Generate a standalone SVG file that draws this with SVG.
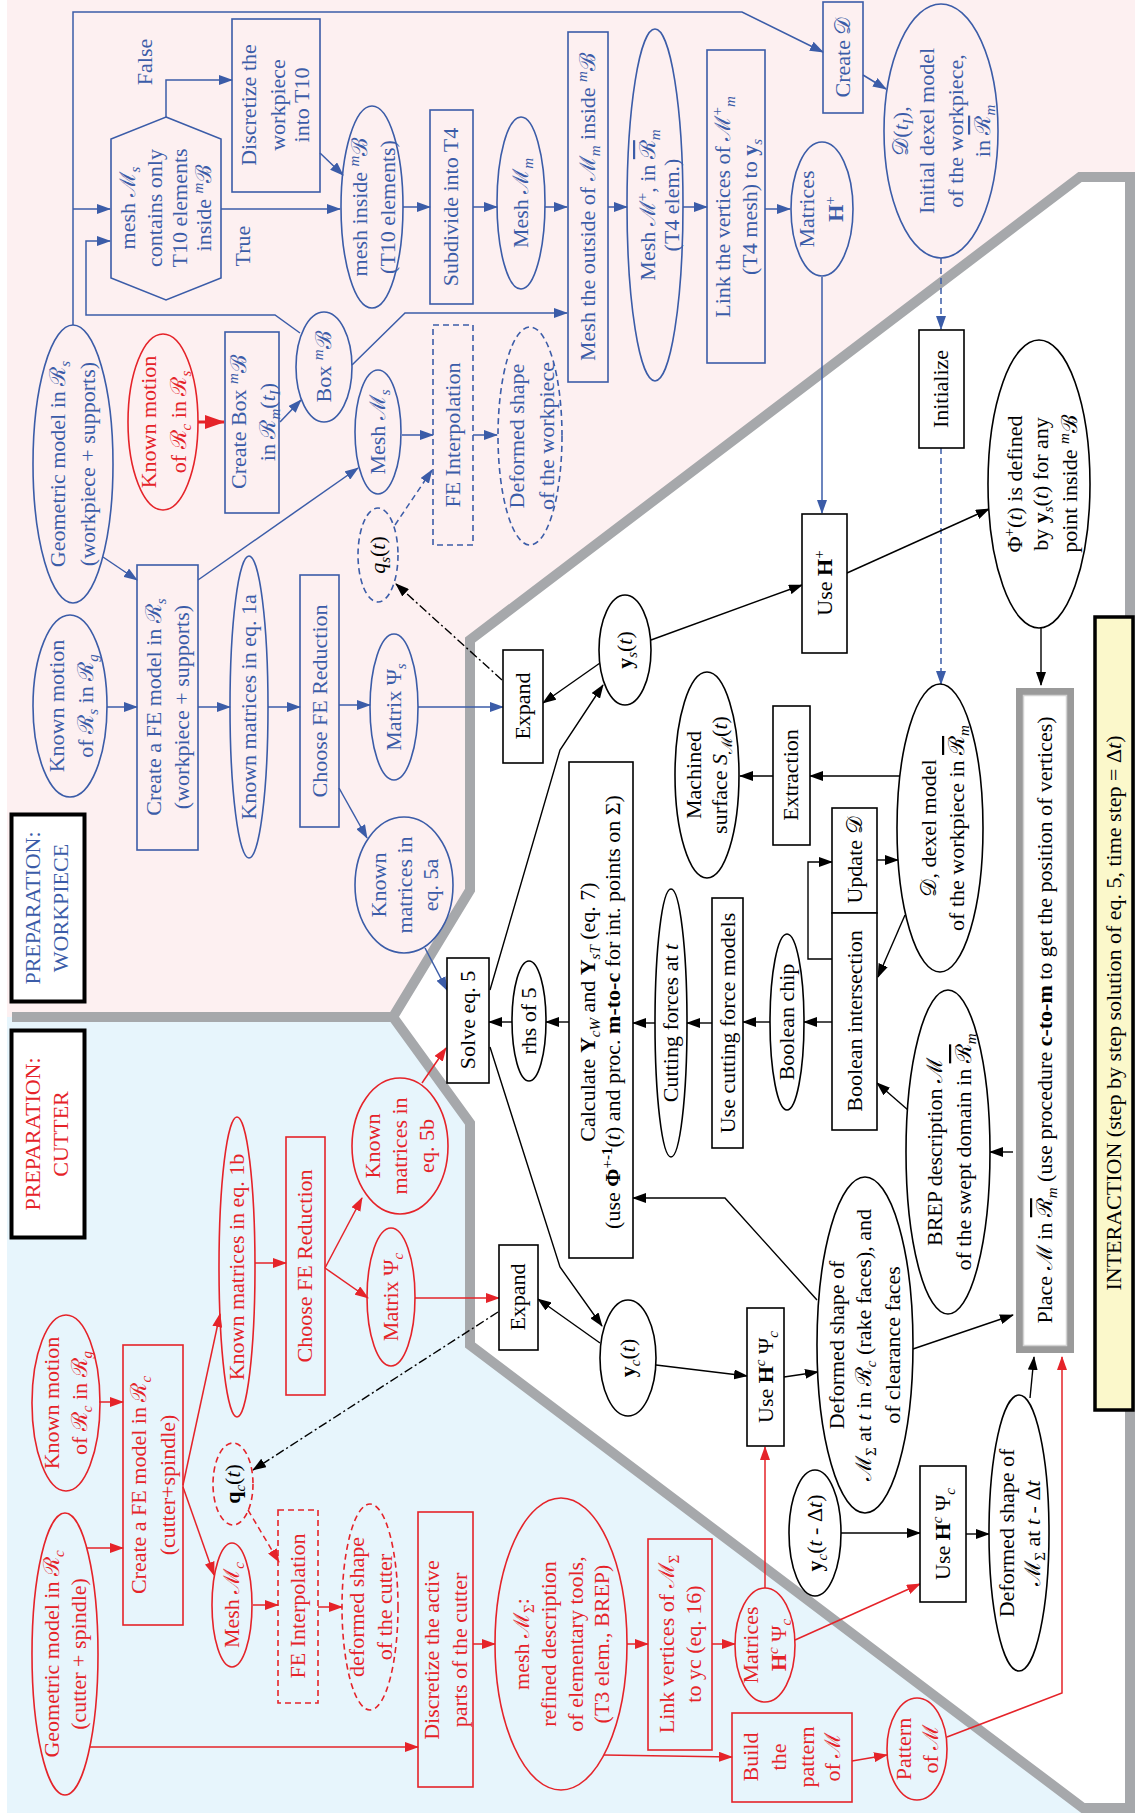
<svg xmlns="http://www.w3.org/2000/svg" width="1135" height="1813" viewBox="0 0 1135 1813">
<defs>
<style>
.t{font-family:"Liberation Serif","DejaVu Serif",serif;font-size:22px;text-anchor:middle}
.b{fill:#3b5ca8}.r{fill:#e52329}.k{fill:#000}
.i{font-style:italic}.bd{font-weight:bold}
.sb{font-size:15px;baseline-shift:-5px}
.sp{font-size:15px;baseline-shift:8px}
.ol{text-decoration:overline}
.nb{fill:none;stroke:#3b5ca8;stroke-width:1.6}
.nr{fill:none;stroke:#e52329;stroke-width:1.6}
.nk{fill:#fff;stroke:#000;stroke-width:1.6}
.dash{stroke-dasharray:6 4}
.dd{stroke-dasharray:9 3 2 3}
.cb{fill:none;stroke:#3b5ca8;stroke-width:1.5;marker-end:url(#ab)}
.cr{fill:none;stroke:#e52329;stroke-width:1.5;marker-end:url(#ar)}
.ck{fill:none;stroke:#000;stroke-width:1.4;marker-end:url(#ak)}
</style>
<marker id="ab" markerUnits="userSpaceOnUse" markerWidth="14" markerHeight="10" refX="13" refY="5" orient="auto"><path d="M0,0L14,5L0,10z" fill="#3b5ca8"/></marker>
<marker id="ar" markerUnits="userSpaceOnUse" markerWidth="14" markerHeight="10" refX="13" refY="5" orient="auto"><path d="M0,0L14,5L0,10z" fill="#e52329"/></marker>
<marker id="ak" markerUnits="userSpaceOnUse" markerWidth="14" markerHeight="10" refX="13" refY="5" orient="auto"><path d="M0,0L14,5L0,10z" fill="#000"/></marker>
<marker id="ar2" markerUnits="userSpaceOnUse" markerWidth="20" markerHeight="14" refX="19" refY="7" orient="auto"><path d="M0,0L20,7L0,14z" fill="#e52329"/></marker>
</defs>

<g id="background">
<rect x="0" y="0" width="1135" height="1813" fill="#fff"/>
<rect x="7" y="0" width="1128" height="1017" fill="#fdf0f1"/>
<rect x="7" y="1017" width="1128" height="1794" fill="#e7f5fc"/>
<path d="M1080,177 L1130,177 L1130,1808 L1083,1808 L470,1345 L470,1123 L393,1017 L470,890 L470,640 Z" fill="#fff" stroke="#a6a8ab" stroke-width="10"/>
<line x1="12" y1="1017" x2="393" y2="1017" stroke="#a6a8ab" stroke-width="10"/>
</g>

<g id="connectors">
<path class="cb" d="M73,325 V12 H742 L823,52"/>
<path class="cb" d="M73,209 H110"/>
<path class="cb" d="M166,117 V80 H232"/>
<path class="cb" d="M221,209 H340"/>
<path class="cb" d="M320,153 L343,175"/>
<path class="cb" d="M300,333 L275,315 H86 V241 H110"/>
<path class="cb" d="M352,365 L405,313 H567"/>
<path class="cb" d="M280,422 L301,400"/>
<path d="M198,422 H224" fill="none" stroke="#e52329" stroke-width="3" marker-end="url(#ar2)"/>
<path class="cb" d="M403,207 H430"/>
<path class="cb" d="M473,207 H497"/>
<path class="cb" d="M545,207 H567"/>
<path class="cb" d="M608,207 H627"/>
<path class="cb" d="M683,207 H707"/>
<path class="cb" d="M765,209 H790"/>
<path class="cb" d="M822,277 V513"/>
<path class="cb" d="M863,75 L886,89"/>
<path class="cb dash" d="M941,258 V329"/>
<path class="cb dash" d="M941,448 V684"/>
<path class="cb" d="M107,707 H137"/>
<path class="cb" d="M103,557 L137,580"/>
<path class="cb" d="M198,580 L358,468"/>
<path class="cb" d="M198,707 H230"/>
<path class="cb" d="M268,707 H300"/>
<path class="cb" d="M339,705 H370"/>
<path class="cb" d="M339,788 L367,838"/>
<path class="cb" d="M418,707 H503"/>
<path class="cb dash" d="M395,525 L432,470"/>
<path class="cb" d="M425,948 L447,990"/>
<path class="cb" d="M402,435 H433"/>
<path class="cb" d="M473,435 H497"/>

<path class="cr" d="M255,1263 H286"/>
<path class="cr" d="M325,1268 L362,1198"/>
<path class="cr" d="M325,1268 L368,1298"/>
<path class="cr" d="M422,1083 L446,1048"/>
<path class="cr" d="M415,1298 H499"/>
<path class="cr" d="M99,1402 H123"/>
<path class="cr" d="M87,1548 H123"/>
<path class="cr" d="M183,1485 L220,1314"/>
<path class="cr" d="M183,1487 L214,1575"/>
<path class="cr dash" d="M248,1510 L279,1562"/>
<path class="cr" d="M253,1605 H278"/>
<path class="cr" d="M318,1607 H342"/>
<path class="cr" d="M90,1747 H418"/>
<path class="cr" d="M473,1644 H495"/>
<path class="cr" d="M627,1644 H648"/>
<path class="cr" d="M712,1644 H735"/>
<path class="cr" d="M604,1755 L732,1757"/>
<path class="cr" d="M765,1588 V1447"/>
<path class="cr" d="M795,1640 L920,1584"/>
<path class="cr" d="M852,1761 L887,1755"/>
<path class="cr" d="M947,1737 L1062,1693 V1357"/>

<path class="ck" d="M651,640 L802,585"/>
<path class="ck" d="M847,573 L989,509"/>
<path class="ck" d="M1041,628 V685"/>
<path class="ck dd" d="M502,680 L396,584"/>
<path class="ck" d="M600,663 L543,703"/>
<path class="ck" d="M490,990 L560,750 L603,685"/>
<path class="ck" d="M900,776 H810"/>
<path class="ck" d="M773,776 H740"/>
<path class="ck" d="M832,959 H808 V862 H832"/>
<path class="ck" d="M877,860 H898"/>
<path class="ck" d="M905,915 L878,977"/>
<path class="ck" d="M832,1022 H804"/>
<path class="ck" d="M770,1022 H743"/>
<path class="ck" d="M712,1023 H687"/>
<path class="ck" d="M655,1023 H633"/>
<path class="ck" d="M569,1022 H546"/>
<path class="ck" d="M512,1022 H489"/>
<path class="ck" d="M908,1110 L877,1083"/>
<path class="ck" d="M1013,1152 H990"/>
<path class="ck" d="M817,1300 L725,1198 H633"/>
<path class="ck" d="M910,1350 L1013,1315"/>
<path class="ck" d="M490,1047 L560,1267 L602,1326"/>
<path class="ck" d="M600,1343 L538,1299"/>
<path class="ck dd" d="M498,1312 L253,1470"/>
<path class="ck" d="M656,1365 L747,1376"/>
<path class="ck" d="M784,1377 L818,1372"/>
<path class="ck" d="M841,1533 H920"/>
<path class="ck" d="M966,1534 H989"/>
<path class="ck" d="M1030,1398 L1034,1357"/>
</g>

<!-- WORKPIECE PREPARATION -->
<g id="n_geo_s"><ellipse class="nb" cx="73" cy="464" rx="40" ry="139"/><text class="t b" transform="translate(73,464) rotate(-90)"><tspan x="0" y="-8">Geometric model in <tspan>ℛ</tspan><tspan class="sb i">s</tspan></tspan><tspan x="0" y="22">(workpiece + supports)</tspan></text></g>
<g id="n_motion_cs"><ellipse class="nr" cx="163" cy="422" rx="35" ry="88"/><text class="t r" transform="translate(163,422) rotate(-90)"><tspan x="0" y="-7">Known motion</tspan><tspan x="0" y="23">of <tspan>ℛ</tspan><tspan class="sb i">c</tspan> in <tspan>ℛ</tspan><tspan class="sb i">s</tspan></tspan></text></g>
<g id="n_createbox"><rect class="nb" x="225" y="332" width="54" height="181"/><text class="t b" transform="translate(252,422) rotate(-90)"><tspan x="0" y="-6">Create Box <tspan class="sp i">m</tspan><tspan>ℬ</tspan></tspan><tspan x="0" y="23">in <tspan>ℛ</tspan><tspan class="sb i">m</tspan>(<tspan class="i">t</tspan><tspan class="sb i">I</tspan>)</tspan></text></g>
<g id="n_boxB"><ellipse class="nb" cx="324" cy="367" rx="28" ry="55"/><text class="t b" transform="translate(324,367) rotate(-90)"><tspan x="0" y="7">Box <tspan class="sp i">m</tspan><tspan>ℬ</tspan></tspan></text></g>
<g id="n_hex"><polygon class="nb" points="166,117 221,139 221,278 166,300 111,278 111,139"/><text class="t b" transform="translate(166,208) rotate(-90)"><tspan x="0" y="-31">mesh <tspan>ℳ</tspan><tspan class="sb i">s</tspan></tspan><tspan x="0" y="-4">contains only</tspan><tspan x="0" y="21">T10 elements</tspan><tspan x="0" y="45">inside <tspan class="sp i">m</tspan><tspan>ℬ</tspan></tspan></text></g>
<g id="l_false"><text class="t b" transform="translate(145,62) rotate(-90)"><tspan x="0" y="7">False</tspan></text></g>
<g id="l_true"><text class="t b" transform="translate(243,246) rotate(-90)"><tspan x="0" y="7">True</tspan></text></g>
<g id="n_discretize_w"><rect class="nb" x="232" y="19" width="88" height="173"/><text class="t b" transform="translate(276,105) rotate(-90)"><tspan x="0" y="-20">Discretize the</tspan><tspan x="0" y="9">workpiece</tspan><tspan x="0" y="33">into T10</tspan></text></g>
<g id="n_meshinside"><ellipse class="nb" cx="372" cy="207" rx="31" ry="101"/><text class="t b" transform="translate(372,207) rotate(-90)"><tspan x="0" y="-5">mesh inside <tspan class="sp i">m</tspan><tspan>ℬ</tspan></tspan><tspan x="0" y="23">(T10 elements)</tspan></text></g>
<g id="n_subdivide"><rect class="nb" x="430" y="110" width="43" height="194"/><text class="t b" transform="translate(451,207) rotate(-90)"><tspan x="0" y="7">Subdivide into T4</tspan></text></g>
<g id="n_meshMm"><ellipse class="nb" cx="521" cy="203" rx="24" ry="86"/><text class="t b" transform="translate(521,203) rotate(-90)"><tspan x="0" y="7">Mesh <tspan>ℳ</tspan><tspan class="sb i">m</tspan></tspan></text></g>
<g id="n_meshout"><rect class="nb" x="568" y="32" width="40" height="350"/><text class="t b" transform="translate(588,207) rotate(-90)"><tspan x="0" y="7">Mesh the outside of <tspan>ℳ</tspan><tspan class="sb i">m</tspan> inside <tspan class="sp i">m</tspan><tspan>ℬ</tspan></tspan></text></g>
<g id="n_meshMplus"><ellipse class="nb" cx="655" cy="205" rx="28" ry="176"/><text class="t b" transform="translate(655,205) rotate(-90)"><tspan x="0" y="0">Mesh <tspan>ℳ</tspan><tspan class="sp">+</tspan>,  in <tspan class="ol">ℛ</tspan><tspan class="sb i">m</tspan></tspan><tspan x="0" y="24">(T4 elem.)</tspan></text></g>
<g id="n_link_s"><rect class="nb" x="707" y="50" width="58" height="313"/><text class="t b" transform="translate(736,207) rotate(-90)"><tspan x="0" y="-6">Link the vertices of  <tspan>ℳ</tspan><tspan class="sp">+</tspan><tspan class="sb i">m</tspan></tspan><tspan x="0" y="21">(T4 mesh) to <tspan class="bd">y</tspan><tspan class="sb i">s</tspan></tspan></text></g>
<g id="n_matH"><ellipse class="nb" cx="822" cy="209" rx="31" ry="67"/><text class="t b" transform="translate(822,209) rotate(-90)"><tspan x="0" y="-8">Matrices</tspan><tspan x="0" y="21"><tspan class="bd">H</tspan><tspan class="sp">+</tspan></tspan></text></g>
<g id="n_createD"><rect class="nb" x="823" y="2" width="40" height="111"/><text class="t b" transform="translate(843,57) rotate(-90)"><tspan x="0" y="7">Create <tspan>𝒟</tspan></tspan></text></g>
<g id="n_Dti"><ellipse class="nb" cx="941" cy="131" rx="57" ry="127"/><text class="t b" transform="translate(941,131) rotate(-90)"><tspan x="0" y="-33"><tspan>𝒟</tspan>(<tspan class="i">t</tspan><tspan class="sb i">I</tspan>),</tspan><tspan x="0" y="-7">Initial dexel model</tspan><tspan x="0" y="22">of the workpiece,</tspan><tspan x="0" y="49">in <tspan class="ol">ℛ</tspan><tspan class="sb i">m</tspan></tspan></text></g>
<g id="n_motion_sg"><ellipse class="nb" cx="70" cy="706" rx="37" ry="91"/><text class="t b" transform="translate(70,706) rotate(-90)"><tspan x="0" y="-6">Known motion</tspan><tspan x="0" y="23">of <tspan>ℛ</tspan><tspan class="sb i">s</tspan> in <tspan>ℛ</tspan><tspan class="sb i">g</tspan></tspan></text></g>
<g id="n_createFE_s"><rect class="nb" x="137" y="565" width="61" height="285"/><text class="t b" transform="translate(167,707) rotate(-90)"><tspan x="0" y="-6">Create a FE model in <tspan>ℛ</tspan><tspan class="sb i">s</tspan></tspan><tspan x="0" y="22">(workpiece + supports)</tspan></text></g>
<g id="n_km1a"><ellipse class="nb" cx="249" cy="707" rx="19" ry="151"/><text class="t b" transform="translate(249,707) rotate(-90)"><tspan x="0" y="7">Known matrices in eq. 1a</tspan></text></g>
<g id="n_chooseS"><rect class="nb" x="300" y="575" width="39" height="252"/><text class="t b" transform="translate(320,701) rotate(-90)"><tspan x="0" y="7">Choose FE Reduction</tspan></text></g>
<g id="n_matPsiS"><ellipse class="nb" cx="394" cy="707" rx="24" ry="73"/><text class="t b" transform="translate(394,707) rotate(-90)"><tspan x="0" y="7">Matrix Ψ<tspan class="sb i">s</tspan></tspan></text></g>
<g id="n_km5a"><ellipse class="nb" cx="404" cy="885" rx="49" ry="68"/><text class="t b" transform="translate(404,885) rotate(-90)"><tspan x="0" y="-18">Known</tspan><tspan x="0" y="8">matrices in</tspan><tspan x="0" y="34">eq. 5a</tspan></text></g>
<g id="n_qs"><ellipse class="nb dash" cx="378" cy="555" rx="20" ry="47"/><text class="t k" transform="translate(378,555) rotate(-90)"><tspan x="0" y="7"><tspan class="i">q</tspan><tspan class="sb i">s</tspan>(<tspan class="i">t</tspan>)</tspan></text></g>
<g id="n_meshMs"><ellipse class="nb" cx="378" cy="432" rx="23" ry="62"/><text class="t b" transform="translate(378,432) rotate(-90)"><tspan x="0" y="7">Mesh <tspan>ℳ</tspan><tspan class="sb i">s</tspan></tspan></text></g>
<g id="n_feis"><rect class="nb dash" x="433" y="325" width="40" height="220"/><text class="t b" transform="translate(453,435) rotate(-90)"><tspan x="0" y="7">FE Interpolation</tspan></text></g>
<g id="n_defws"><ellipse class="nb dash" cx="530" cy="436" rx="32" ry="109"/><text class="t b" transform="translate(530,436) rotate(-90)"><tspan x="0" y="-6">Deformed shape</tspan><tspan x="0" y="24">of the workpiece</tspan></text></g>
<g id="n_prepW"><rect x="11.5" y="814.5" width="73" height="187" fill="#fff" stroke="#000" stroke-width="4"/><text class="t b" transform="translate(48,908) rotate(-90)"><tspan x="0" y="-8">PREPARATION:</tspan><tspan x="0" y="20">WORKPIECE</tspan></text></g>

<!-- INTERACTION -->
<g id="n_init"><rect class="nk" x="919" y="330" width="45" height="118"/><text class="t k" transform="translate(941,389) rotate(-90)"><tspan x="0" y="7">Initialize</tspan></text></g>
<g id="n_phi"><ellipse class="nk" cx="1039" cy="484" rx="51" ry="144"/><text class="t k" transform="translate(1039,484) rotate(-90)"><tspan x="0" y="-17">Φ<tspan class="sp">+</tspan>(<tspan class="i">t</tspan>) is defined</tspan><tspan x="0" y="9">by <tspan class="bd">y</tspan><tspan class="sb i">s</tspan>(<tspan class="i">t</tspan>) for any</tspan><tspan x="0" y="38">point inside <tspan class="sp i">m</tspan><tspan>ℬ</tspan></tspan></text></g>
<g id="n_useH"><rect class="nk" x="802" y="514" width="45" height="139"/><text class="t k" transform="translate(825,583) rotate(-90)"><tspan x="0" y="7">Use <tspan class="bd">H</tspan><tspan class="sp">+</tspan></tspan></text></g>
<g id="n_expand1"><rect class="nk" x="503" y="650" width="40" height="113"/><text class="t k" transform="translate(523,706) rotate(-90)"><tspan x="0" y="7">Expand</tspan></text></g>
<g id="n_ys"><ellipse class="nk" cx="625" cy="650" rx="26" ry="55"/><text class="t k" transform="translate(625,650) rotate(-90)"><tspan x="0" y="7"><tspan class="bd">y</tspan><tspan class="sb i">s</tspan>(<tspan class="i">t</tspan>)</tspan></text></g>
<g id="n_calc"><rect class="nk" x="569" y="762" width="64" height="496"/><text class="t k" transform="translate(601,1012) rotate(-90)"><tspan x="0" y="-6">Calculate <tspan class="bd">Y</tspan><tspan class="sb i">cW</tspan>  and <tspan class="bd">Y</tspan><tspan class="sb i">sT</tspan>  (eq. 7)</tspan><tspan x="0" y="19">(use <tspan class="bd">Φ</tspan><tspan class="sp">+</tspan><tspan class="sp bd">-1</tspan>(<tspan class="i">t</tspan>) and proc. <tspan class="bd">m-to-c</tspan> for int. points on Σ)</tspan></text></g>
<g id="n_machined"><ellipse class="nk" cx="707" cy="775" rx="32" ry="103"/><text class="t k" transform="translate(707,775) rotate(-90)"><tspan x="0" y="-6">Machined</tspan><tspan x="0" y="20">surface <tspan class="i">S</tspan><tspan class="sb">ℳ</tspan>(<tspan class="i">t</tspan>)</tspan></text></g>
<g id="n_extraction"><rect class="nk" x="773" y="706" width="37" height="139"/><text class="t k" transform="translate(791,775) rotate(-90)"><tspan x="0" y="7">Extraction</tspan></text></g>
<g id="n_updateD"><rect class="nk" x="832" y="808" width="45" height="105"/><text class="t k" transform="translate(855,860) rotate(-90)"><tspan x="0" y="7">Update <tspan>𝒟</tspan></tspan></text></g>
<g id="n_boolint"><rect class="nk" x="832" y="913" width="45" height="217"/><text class="t k" transform="translate(855,1021) rotate(-90)"><tspan x="0" y="7">Boolean intersection</tspan></text></g>
<g id="n_dexel"><ellipse class="nk" cx="940" cy="828" rx="43" ry="144"/><text class="t k" transform="translate(940,828) rotate(-90)"><tspan x="0" y="-4"><tspan>𝒟</tspan>, dexel model</tspan><tspan x="0" y="24">of the workpiece in <tspan class="ol">ℛ</tspan><tspan class="sb i">m</tspan></tspan></text></g>
<g id="n_rhs"><ellipse class="nk" cx="529" cy="1021" rx="17" ry="60"/><text class="t k" transform="translate(529,1021) rotate(-90)"><tspan x="0" y="7">rhs of 5</tspan></text></g>
<g id="n_solve"><rect class="nk" x="447" y="958" width="42" height="125"/><text class="t k" transform="translate(468,1020) rotate(-90)"><tspan x="0" y="7">Solve eq. 5</tspan></text></g>
<g id="n_cutforces"><ellipse class="nk" cx="671" cy="1023" rx="16" ry="134"/><text class="t k" transform="translate(671,1023) rotate(-90)"><tspan x="0" y="7">Cutting forces at <tspan class="i">t</tspan></tspan></text></g>
<g id="n_usecut"><rect class="nk" x="712" y="898" width="31" height="250"/><text class="t k" transform="translate(728,1023) rotate(-90)"><tspan x="0" y="7">Use cutting force models</tspan></text></g>
<g id="n_boolchip"><ellipse class="nk" cx="787" cy="1022" rx="17" ry="88"/><text class="t k" transform="translate(787,1022) rotate(-90)"><tspan x="0" y="7">Boolean chip</tspan></text></g>
<g id="n_brep"><ellipse class="nk" cx="948" cy="1152" rx="42" ry="162"/><text class="t k" transform="translate(948,1152) rotate(-90)"><tspan x="0" y="-6">BREP description <tspan>ℳ</tspan></tspan><tspan x="0" y="23">of the swept domain in <tspan class="ol">ℛ</tspan><tspan class="sb i">m</tspan></tspan></text></g>
<g id="n_place"><rect x="1019.5" y="691.5" width="51" height="658" fill="#fff" stroke="#9a9a9a" stroke-width="7"/><rect x="1023.5" y="695.5" width="43" height="650" fill="none" stroke="#d2d2d2" stroke-width="1.5"/><text class="t k" transform="translate(1045,1020) rotate(-90)"><tspan x="0" y="7">Place <tspan>ℳ</tspan> in <tspan class="ol">ℛ</tspan><tspan class="sb i">m</tspan> (use procedure <tspan class="bd">c-to-m</tspan> to get the position of vertices)</tspan></text></g>
<g id="n_interaction"><rect x="1095" y="617" width="38" height="793" fill="#fbf8cb" stroke="#000" stroke-width="3.5"/><text class="t k" transform="translate(1114,1013) rotate(-90)"><tspan x="0" y="7">INTERACTION (step by step solution of eq. 5, time step = Δ<tspan class="i">t</tspan>)</tspan></text></g>
<g id="n_expand2"><rect class="nk" x="499" y="1245" width="39" height="105"/><text class="t k" transform="translate(518,1297) rotate(-90)"><tspan x="0" y="7">Expand</tspan></text></g>
<g id="n_yc"><ellipse class="nk" cx="628" cy="1358" rx="28" ry="58"/><text class="t k" transform="translate(628,1358) rotate(-90)"><tspan x="0" y="7"><tspan class="bd">y</tspan><tspan class="sb i">c</tspan>(<tspan class="i">t</tspan>)</tspan></text></g>
<g id="n_useHc1"><rect class="nk" x="747" y="1308" width="37" height="138"/><text class="t k" transform="translate(766,1377) rotate(-90)"><tspan x="0" y="7">Use <tspan class="bd">H</tspan><tspan class="sp i">c</tspan> Ψ<tspan class="sb i">c</tspan></tspan></text></g>
<g id="n_defbig"><ellipse class="nk" cx="865" cy="1345" rx="48" ry="168"/><text class="t k" transform="translate(865,1345) rotate(-90)"><tspan x="0" y="-21">Deformed shape of</tspan><tspan x="0" y="6"><tspan>ℳ</tspan><tspan class="sb">Σ</tspan> at <tspan class="i">t</tspan> in <tspan>ℛ</tspan><tspan class="sb i">c</tspan> (rake faces), and</tspan><tspan x="0" y="35">of clearance faces</tspan></text></g>
<g id="n_ycdt"><ellipse class="nk" cx="815" cy="1533" rx="26" ry="63"/><text class="t k" transform="translate(815,1533) rotate(-90)"><tspan x="0" y="7"><tspan class="bd">y</tspan><tspan class="sb i">c</tspan>(<tspan class="i">t</tspan> - Δ<tspan class="i">t</tspan>)</tspan></text></g>
<g id="n_useHc2"><rect class="nk" x="920" y="1466" width="46" height="136"/><text class="t k" transform="translate(943,1534) rotate(-90)"><tspan x="0" y="7">Use <tspan class="bd">H</tspan><tspan class="sp i">c</tspan> Ψ<tspan class="sb i">c</tspan></tspan></text></g>
<g id="n_defdt"><ellipse class="nk" cx="1019" cy="1533" rx="30" ry="138"/><text class="t k" transform="translate(1019,1533) rotate(-90)"><tspan x="0" y="-5">Deformed shape of</tspan><tspan x="0" y="21"><tspan>ℳ</tspan><tspan class="sb">Σ</tspan> at <tspan class="i">t</tspan> - Δ<tspan class="i">t</tspan></tspan></text></g>

<!-- CUTTER PREPARATION -->
<g id="n_prepC"><rect x="11.5" y="1030.5" width="73" height="207" fill="#fff" stroke="#000" stroke-width="4"/><text class="t r" transform="translate(48,1134) rotate(-90)"><tspan x="0" y="-8">PREPARATION:</tspan><tspan x="0" y="20">CUTTER</tspan></text></g>
<g id="n_km1b"><ellipse class="nr" cx="237" cy="1267" rx="18" ry="150"/><text class="t r" transform="translate(237,1267) rotate(-90)"><tspan x="0" y="7">Known matrices in eq. 1b</tspan></text></g>
<g id="n_chooseC"><rect class="nr" x="286" y="1137" width="39" height="258"/><text class="t r" transform="translate(305,1266) rotate(-90)"><tspan x="0" y="7">Choose FE Reduction</tspan></text></g>
<g id="n_km5b"><ellipse class="nr" cx="400" cy="1146" rx="48" ry="68"/><text class="t r" transform="translate(400,1146) rotate(-90)"><tspan x="0" y="-20">Known</tspan><tspan x="0" y="7">matrices in</tspan><tspan x="0" y="34">eq. 5b</tspan></text></g>
<g id="n_matPsiC"><ellipse class="nr" cx="391" cy="1297" rx="24" ry="69"/><text class="t r" transform="translate(391,1297) rotate(-90)"><tspan x="0" y="7">Matrix Ψ<tspan class="sb i">c</tspan></tspan></text></g>
<g id="n_motion_cg"><ellipse class="nr" cx="66" cy="1403" rx="34" ry="88"/><text class="t r" transform="translate(66,1403) rotate(-90)"><tspan x="0" y="-7">Known motion</tspan><tspan x="0" y="21">of <tspan>ℛ</tspan><tspan class="sb i">c</tspan> in <tspan>ℛ</tspan><tspan class="sb i">g</tspan></tspan></text></g>
<g id="n_createFE_c"><rect class="nr" x="123" y="1345" width="60" height="280"/><text class="t r" transform="translate(153,1485) rotate(-90)"><tspan x="0" y="-7">Create a FE model in <tspan>ℛ</tspan><tspan class="sb i">c</tspan></tspan><tspan x="0" y="22">(cutter+spindle)</tspan></text></g>
<g id="n_geo_c"><ellipse class="nr" cx="65" cy="1654" rx="33" ry="141"/><text class="t r" transform="translate(65,1654) rotate(-90)"><tspan x="0" y="-6">Geometric model in <tspan>ℛ</tspan><tspan class="sb i">c</tspan></tspan><tspan x="0" y="21">(cutter + spindle)</tspan></text></g>
<g id="n_meshMc"><ellipse class="nr" cx="232" cy="1605" rx="20" ry="62"/><text class="t r" transform="translate(232,1605) rotate(-90)"><tspan x="0" y="7">Mesh <tspan>ℳ</tspan><tspan class="sb i">c</tspan></tspan></text></g>
<g id="n_qc"><ellipse class="nr dash" cx="233" cy="1484" rx="20" ry="41"/><text class="t k" transform="translate(233,1484) rotate(-90)"><tspan x="0" y="7"><tspan class="bd">q</tspan><tspan class="sb i">c</tspan>(<tspan class="i">t</tspan>)</tspan></text></g>
<g id="n_feic"><rect class="nr dash" x="278" y="1510" width="40" height="193"/><text class="t r" transform="translate(298,1606) rotate(-90)"><tspan x="0" y="7">FE Interpolation</tspan></text></g>
<g id="n_defcut"><ellipse class="nr dash" cx="370" cy="1607" rx="28" ry="103"/><text class="t r" transform="translate(370,1607) rotate(-90)"><tspan x="0" y="-6">deformed shape</tspan><tspan x="0" y="22">of the cutter</tspan></text></g>
<g id="n_disc_c"><rect class="nr" x="418" y="1512" width="55" height="275"/><text class="t r" transform="translate(445,1650) rotate(-90)"><tspan x="0" y="-6">Discretize the active</tspan><tspan x="0" y="22">parts of the cutter</tspan></text></g>
<g id="n_meshSigma"><ellipse class="nr" cx="561" cy="1644" rx="66" ry="146"/><text class="t r" transform="translate(561,1644) rotate(-90)"><tspan x="0" y="-32">mesh <tspan>ℳ</tspan><tspan class="sb">Σ</tspan>:</tspan><tspan x="0" y="-5">refined description</tspan><tspan x="0" y="22">of elementary tools,</tspan><tspan x="0" y="48">(T3 elem., BREP)</tspan></text></g>
<g id="n_linkc"><rect class="nr" x="648" y="1539" width="64" height="211"/><text class="t r" transform="translate(680,1644) rotate(-90)"><tspan x="0" y="-6">Link vertices of  <tspan>ℳ</tspan><tspan class="sb">Σ</tspan></tspan><tspan x="0" y="21">to yc (eq. 16)</tspan></text></g>
<g id="n_matHc"><ellipse class="nr" cx="765" cy="1645" rx="30" ry="57"/><text class="t r" transform="translate(765,1645) rotate(-90)"><tspan x="0" y="-7">Matrices</tspan><tspan x="0" y="21"><tspan class="bd">H</tspan><tspan class="sp i">c</tspan> Ψ<tspan class="sb i">c</tspan></tspan></text></g>
<g id="n_build"><rect class="nr" x="732" y="1713" width="120" height="89"/><text class="t r" transform="translate(792,1757) rotate(-90)"><tspan x="0" y="-34">Build</tspan><tspan x="0" y="-6">the</tspan><tspan x="0" y="22">pattern</tspan><tspan x="0" y="48">of <tspan>ℳ</tspan></tspan></text></g>
<g id="n_pattern"><ellipse class="nr" cx="917" cy="1749" rx="30" ry="51"/><text class="t r" transform="translate(917,1749) rotate(-90)"><tspan x="0" y="-6">Pattern</tspan><tspan x="0" y="21">of <tspan>ℳ</tspan></tspan></text></g>
</svg>
